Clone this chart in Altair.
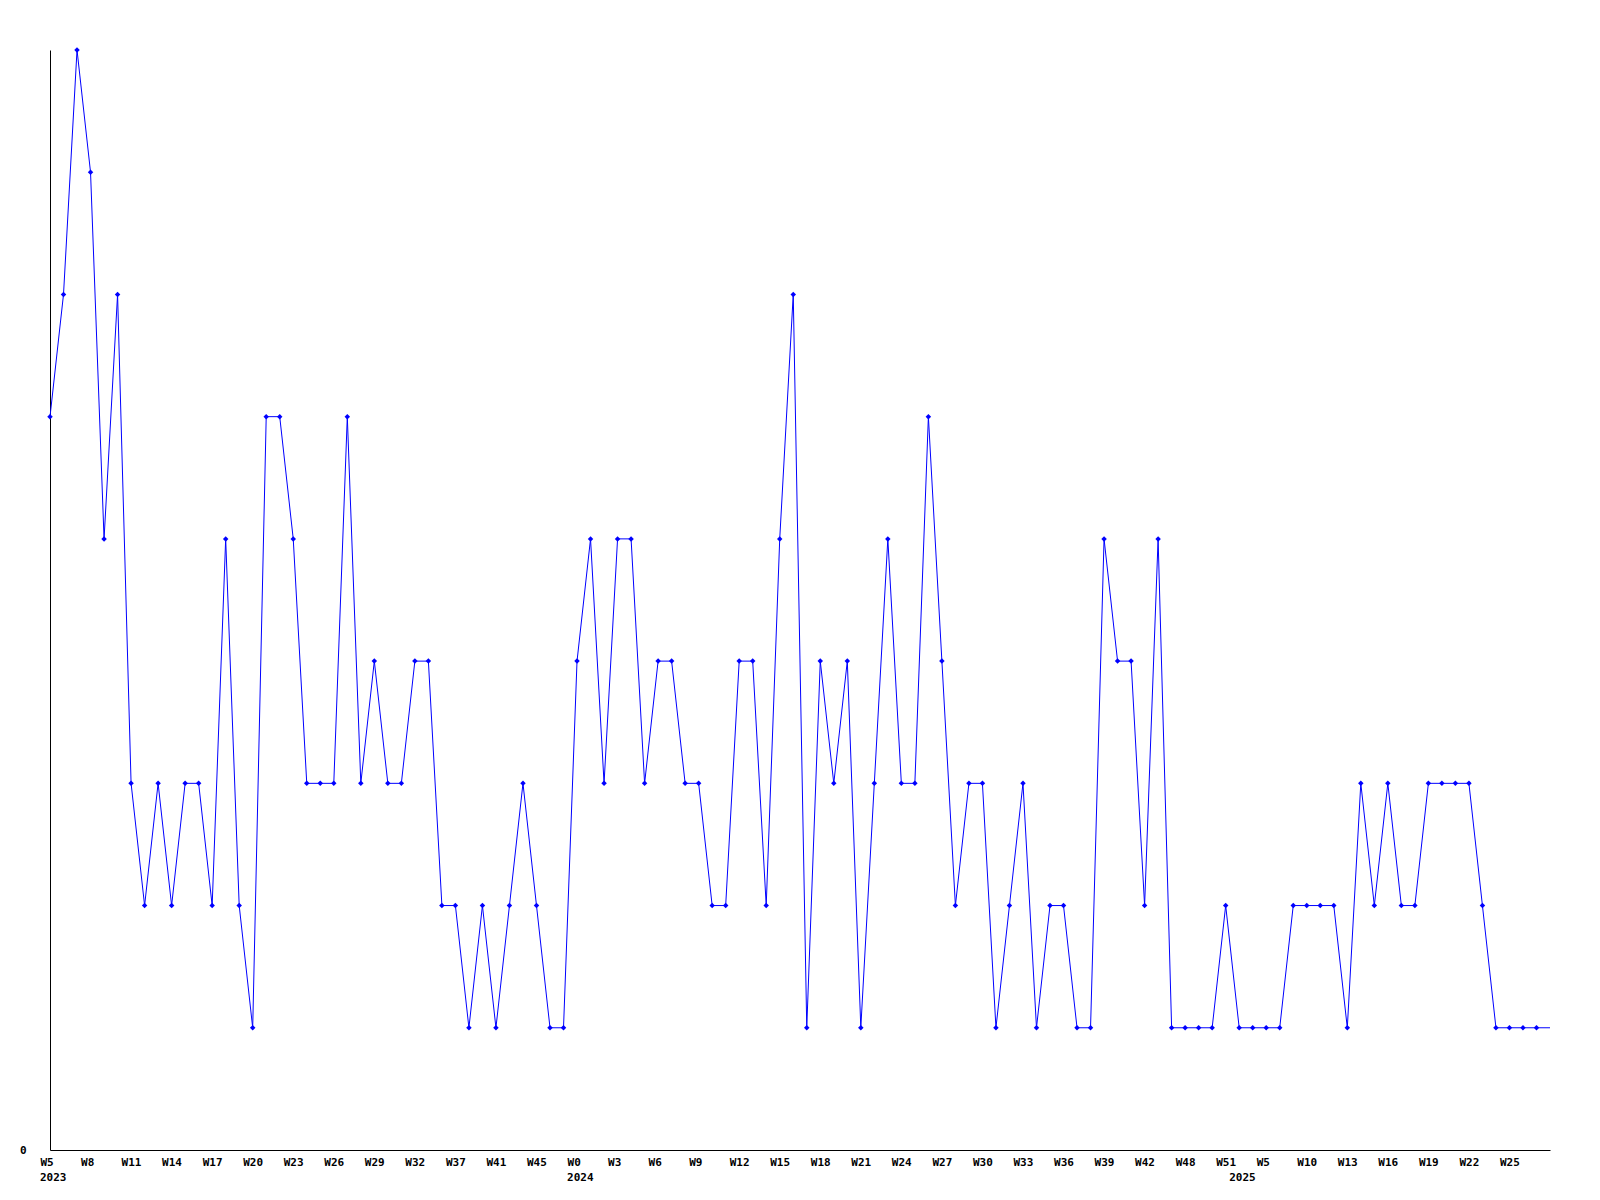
import json
import altair as alt
import pandas as pd

# weekly values, one per point (equally spaced)
values = [6, 7, 9, 8, 5, 7, 3, 2, 3, 2, 3, 3, 2, 5, 2, 1, 6, 6, 5, 3,
          3, 3, 6, 3, 4, 3, 3, 4, 4, 2, 2, 1, 2, 1, 2, 3, 2, 1, 1, 4,
          5, 3, 5, 5, 3, 4, 4, 3, 3, 2, 2, 4, 4, 2, 5, 7, 1, 4, 3, 4,
          1, 3, 5, 3, 3, 6, 4, 2, 3, 3, 1, 2, 3, 1, 2, 2, 1, 1, 5, 4,
          4, 2, 5, 1, 1, 1, 1, 2, 1, 1, 1, 1, 2, 2, 2, 2, 1, 3, 2, 3,
          2, 2, 3, 3, 3, 3, 2, 1, 1, 1, 1, 1]

# week tick labels, one on every third point
tick_labels = ["W5", "W8", "W11", "W14", "W17", "W20", "W23", "W26", "W29", "W32",
               "W37", "W41", "W45", "W0", "W3", "W6", "W9", "W12", "W15", "W18",
               "W21", "W24", "W27", "W30", "W33", "W36", "W39", "W42", "W48", "W51",
               "W5", "W10", "W13", "W16", "W19", "W22", "W25"]
tick_pos = list(range(0, 3 * len(tick_labels), 3))

# year labels at the first point of each year
years = ["2023", "2024", "2025"]
year_idx = [0, 39, 88]

n = len(values)
df = pd.DataFrame({"idx": list(range(n)), "v": values})
ydf = pd.DataFrame({"idx": year_idx, "year": years})

FONT = "DejaVu Sans Mono"
BLUE = "#0000ff"
FS = 11

label_expr = f"{json.dumps(tick_labels)}[indexof({json.dumps(tick_pos)}, datum.value)]"

xscale = alt.Scale(domain=[0, n - 1], nice=False, zero=False)
yscale = alt.Scale(domain=[0, 9], nice=False)

x_enc = alt.X("idx:Q", scale=xscale, title=None,
              axis=alt.Axis(values=tick_pos, labelExpr=label_expr, grid=False,
                            ticks=False, tickSize=0, labelPadding=6,
                            labelAlign="left", labelOffset=-10,
                            labelFont=FONT, labelFontSize=FS, labelFontWeight="bold",
                            labelColor="#000000", labelOverlap=False, labelFlush=False,
                            labelBound=False, domainColor="#000000", domainWidth=1))
y_enc = alt.Y("v:Q", scale=yscale, title=None,
              axis=alt.Axis(values=[0], format="d", grid=False, ticks=False, tickSize=0,
                            labelPadding=24, labelFont=FONT, labelFontSize=FS,
                            labelFontWeight="bold", labelColor="#000000",
                            domainColor="#000000", domainWidth=1))

line = alt.Chart(df).mark_line(color=BLUE, strokeWidth=1).encode(x=x_enc, y=y_enc)

pts = alt.Chart(df).transform_filter("datum.idx < %d" % (n - 1)).mark_point(
    shape="diamond", filled=True, color=BLUE, size=30, opacity=1
).encode(x=alt.X("idx:Q", scale=xscale), y=alt.Y("v:Q", scale=yscale))

yr = alt.Chart(ydf).mark_text(
    font=FONT, fontSize=FS, fontWeight="bold", color="#000000",
    align="left", baseline="top", dx=-10
).encode(x=alt.X("idx:Q", scale=xscale), y=alt.value(1122), text="year:N")

chart = alt.layer(line, pts, yr).properties(
    width=1500, height=1100,
    padding={"left": 42, "top": 42, "right": 30, "bottom": 40},
    autosize=alt.AutoSizeParams(type="none"),
    background="white",
).configure_view(stroke=None)

chart.save("out.html", embed_options={"renderer": "svg", "actions": False})
